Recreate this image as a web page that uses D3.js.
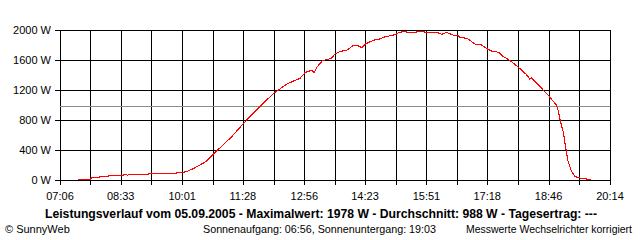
<!DOCTYPE html>
<html>

<head>
  <script type="text/javascript" src="https://cdn.jsdelivr.net/npm/d3@7/dist/d3.min.js"></script>
  <style>
    body { margin: 0; background: #fff; }
    svg { display: block; }
    text { font-family: "Liberation Sans", Arial, sans-serif; font-size: 11px; fill: #000; }
  </style>
</head>

<body>
  <svg width="640" height="240"></svg>
</body>
<script>
  // tick labels on the time axis (every second grid line)
  const timeLabels = ['07:06', '08:33', '10:01', '11:28', '12:56', '14:23', '15:51', '17:18', '18:46', '20:14'];
  const powerTicks = [0, 400, 800, 1200, 1600, 2000];

  const times = ['07:32', '07:50', '07:51', '08:02', '08:03', '08:15', '08:16', '08:36', '08:39', '08:43',
    '08:46', '09:12', '09:15', '09:48', '09:51', '09:54', '10:02', '10:07', '10:15', '10:22',
    '10:29', '10:36', '10:43', '10:48', '10:52', '11:12', '11:29', '11:50', '12:13', '12:33',
    '12:50', '12:57', '13:07', '13:10', '13:14', '13:22', '13:35', '13:40', '13:47', '13:57',
    '14:06', '14:13', '14:18', '14:23', '14:30', '14:37', '14:44', '14:49', '14:59', '15:08',
    '15:11', '15:20', '15:27', '15:42', '15:54', '16:06', '16:13', '16:20', '16:29', '16:37',
    '16:39', '16:49', '16:56', '17:01', '17:10', '17:17', '17:24', '17:35', '17:39', '17:46',
    '17:53', '18:00', '18:07', '18:14', '18:19', '18:21', '18:29', '18:36', '18:43', '18:50',
    '18:57', '19:00', '19:03', '19:07', '19:11', '19:14', '19:19', '19:24', '19:33', '19:40', '19:47'];
  const watts = [9, 9, 31, 31, 44, 44, 63, 63, 76, 63,
    76, 76, 89, 89, 80, 103, 103, 111, 143, 177,
    213, 253, 320, 364, 400, 578, 756, 956, 1164, 1289,
    1356, 1431, 1467, 1431, 1502, 1591, 1622, 1680, 1711, 1733,
    1791, 1791, 1764, 1809, 1844, 1867, 1880, 1902, 1924, 1942,
    1969, 1978, 1964, 1978, 1969, 1969, 1942, 1969, 1933, 1924,
    1902, 1889, 1844, 1809, 1800, 1756, 1720, 1702, 1658, 1622,
    1578, 1524, 1467, 1409, 1347, 1364, 1289, 1222, 1156, 1080,
    1000, 920, 778, 644, 400, 244, 111, 44, 22, 13, 9];
  const averageW = 988;

  const title = 'Leistungsverlauf vom 05.09.2005 - Maximalwert: 1978 W - Durchschnitt: 988 W - Tagesertrag: ---';
  const sunText = 'Sonnenaufgang: 06:56, Sonnenuntergang: 19:03';
  const noteText = 'Messwerte Wechselrichter korrigiert';

  const toMin = (t) => +t.slice(0, 2) * 60 + +t.slice(3);

  const plotLeft = 60, plotRight = 610, plotTop = 30, plotBottom = 180;
  const svg = d3.select('svg');

  const xScale = d3.scaleLinear()
    .domain([toMin(timeLabels[0]), toMin(timeLabels[timeLabels.length - 1])])
    .range([plotLeft, plotRight]);
  const yScale = d3.scaleLinear()
    .domain([0, 2000])
    .range([plotBottom, plotTop]);

  const px = (v) => Math.round(v) + 0.5;

  // vertical grid: labelled ticks plus the ones half way between
  const labelMins = timeLabels.map(toMin);
  const gridMins = [];
  labelMins.forEach((m, i) => {
    gridMins.push(m);
    if (i < labelMins.length - 1) gridMins.push((m + labelMins[i + 1]) / 2);
  });

  const grid = svg.append('g')
    .attr('stroke', '#000')
    .attr('shape-rendering', 'crispEdges');

  grid.selectAll('.vline')
    .data(gridMins)
    .enter()
    .append('line')
    .attr('x1', (d) => px(xScale(d)))
    .attr('x2', (d) => px(xScale(d)))
    .attr('y1', yScale(2000))
    .attr('y2', yScale(0) + 5);

  grid.selectAll('.hline')
    .data(powerTicks)
    .enter()
    .append('line')
    .attr('x1', plotLeft - 5)
    .attr('x2', px(plotRight) + 0.5)
    .attr('y1', (d) => px(yScale(d)))
    .attr('y2', (d) => px(yScale(d)));

  // average line
  svg.append('line')
    .attr('x1', plotLeft)
    .attr('x2', plotRight)
    .attr('y1', px(yScale(averageW)))
    .attr('y2', px(yScale(averageW)))
    .attr('stroke', '#8c8c8c')
    .attr('shape-rendering', 'crispEdges');

  // y labels
  svg.selectAll('.ylab')
    .data(powerTicks)
    .enter()
    .append('text')
    .attr('x', 51)
    .attr('y', (d) => yScale(d) + 4)
    .attr('text-anchor', 'end')
    .text((d) => `${d} W`);

  // x labels
  svg.selectAll('.xlab')
    .data(timeLabels)
    .enter()
    .append('text')
    .attr('x', (d) => xScale(toMin(d)))
    .attr('y', 200)
    .attr('text-anchor', 'middle')
    .text((d) => d);

  // power curve
  const line = d3.line()
    .x((d, i) => xScale(toMin(times[i])))
    .y((d) => yScale(d));

  svg.append('path')
    .datum(watts)
    .attr('d', line)
    .attr('fill', 'none')
    .attr('stroke', '#ff0000')
    .attr('stroke-width', 1.1)
    .attr('shape-rendering', 'crispEdges');

  svg.append('text')
    .attr('x', 45)
    .attr('y', 218)
    .style('font-weight', 'bold')
    .style('font-size', '12px')
    .attr('textLength', 552)
    .attr('lengthAdjust', 'spacingAndGlyphs')
    .text(title);

  svg.append('text')
    .attr('x', 5)
    .attr('y', 233)
    .text('\u00a9 SunnyWeb');

  svg.append('text')
    .attr('x', 203)
    .attr('y', 233)
    .attr('textLength', 233)
    .attr('lengthAdjust', 'spacingAndGlyphs')
    .text(sunText);

  svg.append('text')
    .attr('x', 466)
    .attr('y', 233)
    .attr('textLength', 166)
    .attr('lengthAdjust', 'spacingAndGlyphs')
    .text(noteText);
</script>

</html>
